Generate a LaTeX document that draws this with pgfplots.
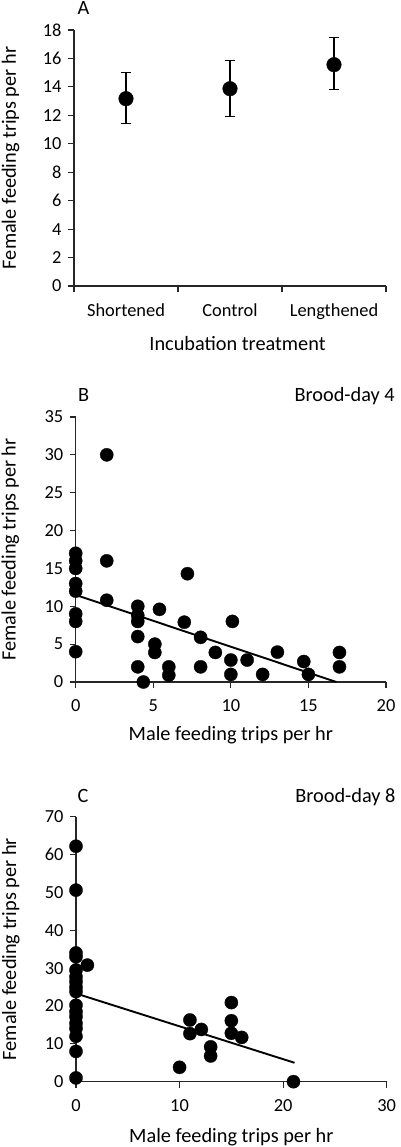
\documentclass[border=0pt]{standalone}
\usepackage{pgfplots}
\pgfplotsset{compat=1.18}
\usepackage{fontspec}
\setmainfont{Carlito}

\pgfplotsset{
  myax/.style={
    scale only axis,
    axis lines=left,
    axis line style={-, line width=1.2pt, black!85},
    every tick/.style={line width=1.1pt, black!85},
    tick align=outside,
    major tick length=6pt,
    minor tick length=6pt,
    tick pos=left,
    tick label style={font=\fontsize{18.4}{22}\selectfont, black},
    /pgf/number format/assume math mode=true,
    label style={font=\fontsize{20.3}{24}\selectfont, black},
    clip=false,
    yticklabel style={xshift=-3pt},
    xticklabel style={anchor=base, yshift=-24pt},
    xlabel style={anchor=base},
    ylabel style={anchor=base},
  },
  scatterdots/.style={only marks, mark=*, mark size=6.6pt, mark options={fill=black, draw=black, line width=0.3pt}},
  regline/.style={no marks, black, line width=1.9pt},
}

\begin{document}
\begin{tikzpicture}
\useasboundingbox (0pt,0pt) rectangle (400pt,1147pt);

% Panel A
\begin{axis}[myax,
  at={(74pt,861pt)}, anchor=south west,
  width=312pt, height=256pt,
  xmin=0, xmax=3, ymin=0, ymax=18,
  ytick={0,2,...,18},
  xtick={0.5,1.5,2.5},
  xticklabels={Shortened,Control,Lengthened},
  every major x tick/.append style={draw=none},
  minor xtick={0,1,2,3},
  xticklabel style={yshift=-0.7pt},
  xlabel={Incubation treatment},
  ylabel={Female feeding trips per hr},
  xlabel style={at={(axis description cs:0.524,-0.253)}},
  ylabel style={at={(axis description cs:-0.186,0.5)}},
]
\addplot[only marks, mark=*, mark size=7.3pt, mark options={fill=black, draw=black},
  error bars/.cd, y dir=both, y explicit,
  error bar style={line width=1.5pt, black},
  error mark options={rotate=90, mark size=5.3pt, line width=1.5pt, black}]
  coordinates {
  (0.5,13.17) += (0,1.83) -= (0,1.73)
  (1.5,13.87) += (0,2.00) -= (0,1.97)
  (2.5,15.56) += (0,1.90) -= (0,1.76)
  };
\node[anchor=base west, font=\fontsize{20.3}{24}\selectfont, yshift=15pt] at (axis description cs:0,1) {A};
\end{axis}

% Panel B
\begin{axis}[myax,
  at={(75.7pt,465pt)}, anchor=south west,
  width=310.3pt, height=265pt,
  xmin=0, xmax=20, ymin=0, ymax=35,
  xtick={0,5,...,20}, ytick={0,5,...,35},
  xlabel={Male feeding trips per hr},
  ylabel={Female feeding trips per hr},
  xlabel style={at={(axis description cs:0.5,-0.219)}},
  ylabel style={at={(axis description cs:-0.194,0.5)}},
]
\addplot[scatterdots] coordinates {
  (0,17) (0,16) (0,15) (0,13) (0,12) (0,9) (0,8) (0,4)
  (2,30) (2,16) (2,10.8)
  (4,10) (4,8.8) (4,8) (4,6) (4,2)
  (4.36,0) (5.4,9.6) (5.1,5) (5.1,3.9)
  (6,2) (6,0.9) (7,7.9) (7.2,14.3)
  (8.05,5.9) (8.05,2) (9,3.9)
  (10,2.9) (10,1) (10.1,8)
  (11.05,2.9) (12.05,1) (13,3.95)
  (14.7,2.7) (15,1) (17,3.9) (17,2)
};
\addplot[regline] coordinates {(0,11.5) (16.8,0)};
\node[anchor=base west, font=\fontsize{20.3}{24}\selectfont, yshift=15.3pt, xshift=-1pt] at (axis description cs:0,1) {B};
\node[anchor=base east, font=\fontsize{20.3}{24}\selectfont, yshift=15.3pt, xshift=12.3pt] at (axis description cs:1,1) {Brood-day 4};
\end{axis}

% Panel C
\begin{axis}[myax,
  at={(76pt,65.3pt)}, anchor=south west,
  width=310.7pt, height=265pt,
  xmin=0, xmax=30, ymin=0, ymax=70,
  xtick={0,10,...,30}, ytick={0,10,...,70},
  xlabel={Male feeding trips per hr},
  ylabel={Female feeding trips per hr},
  xlabel style={at={(axis description cs:0.5,-0.231)}},
  ylabel style={at={(axis description cs:-0.193,0.5)}},
]
\addplot[scatterdots] coordinates {
  (0,62.2) (0,50.6) (0,34) (0,33) (0,29.5) (0,27.7) (0,26.4) (0,25)
  (0,23.8) (0,20.2) (0,18.5) (0,17.2) (0,15.4) (0,14.1) (0,12) (0,8) (0,1)
  (1.1,30.8) (10,3.8) (11,16.3) (11,12.7) (12.1,13.8)
  (13,9.2) (13,6.8) (15,20.9) (15,16.1) (15,12.8) (16,11.7) (21,0)
};
\addplot[regline] coordinates {(0,23.3) (21.1,5.0)};
\node[anchor=base west, font=\fontsize{20.3}{24}\selectfont, yshift=14.4pt, xshift=-2pt] at (axis description cs:0,1) {C};
\node[anchor=base east, font=\fontsize{20.3}{24}\selectfont, yshift=14.4pt, xshift=12.3pt] at (axis description cs:1,1) {Brood-day 8};
\end{axis}
\end{tikzpicture}
\end{document}
